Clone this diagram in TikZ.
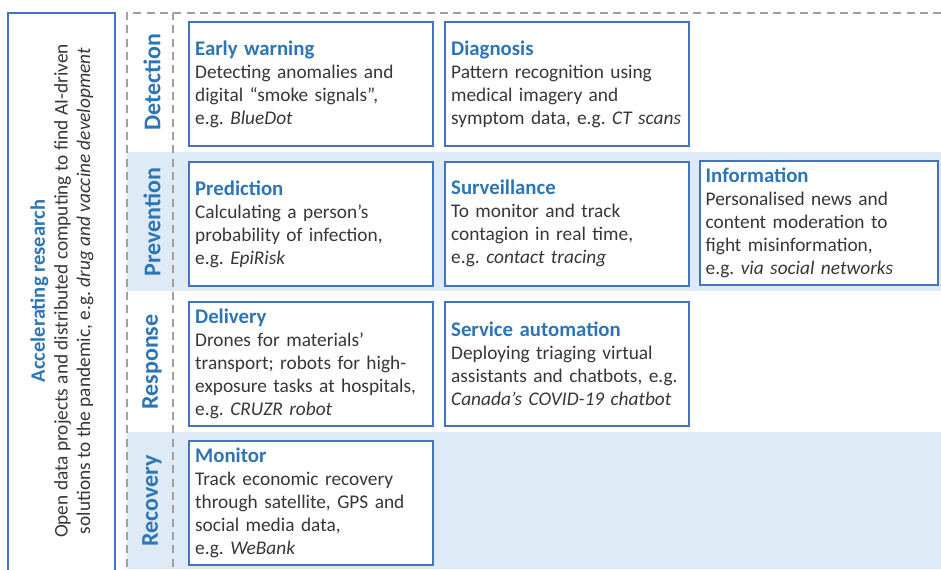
\documentclass[tikz,border=0pt]{standalone}
\usepackage{fontspec}
\setmainfont{Carlito}
\usepackage{xcolor}
\definecolor{frameblue}{RGB}{68, 114, 196}
\definecolor{headblue}{RGB}{46, 117, 182}
\definecolor{bandblue}{RGB}{222, 234, 246}
\definecolor{dashgray}{RGB}{160, 160, 160}
\definecolor{bodygray}{RGB}{55, 55, 55}
\newcommand{\cardhead}[1]{\textcolor{headblue}{\fontsize{15.6}{17.25}\selectfont\bfseries #1}}

\begin{document}
\begin{tikzpicture}[x=0.75pt, y=-0.75pt,
    card/.style={draw=frameblue, line width=1.5pt, fill=white, inner sep=0pt,
        minimum width=183pt, minimum height=93pt, text width=173pt, align=left,
        text=bodygray, font=\fontsize{14.5}{17.25}\selectfont\frenchspacing},
    phase/.style={rotate=90, text=headblue, font=\fontsize{18}{20}\selectfont\bfseries},
    guide/.style={dashgray, line width=1.1pt, dash pattern=on 6pt off 4pt}]
    \useasboundingbox (0,0) rectangle (941,569);
    \clip (0,0) rectangle (941,569);

    % Shaded phase bands
    \fill[bandblue] (127,152) rectangle (941,291);
    \fill[bandblue] (127,432) rectangle (941,569);

    % Dashed frame of the phase column
    \draw[guide] (127,580) -- (127,13) -- (941,13);
    \draw[guide] (173,580) -- (173,13);

    % Accelerating research
    \draw[frameblue, line width=1.5pt, fill=white] (8,13) rectangle (115,580);
    \node[rotate=90, align=center, text=bodygray, font=\fontsize{14.5}{17}\selectfont\frenchspacing] (accel) at (62,291)
        {\textcolor{headblue}{\fontsize{15.4}{17}\selectfont\bfseries Accelerating research}\\
         Open data projects and distributed computing to find AI-driven\\
         solutions to the pandemic, e.g. \textit{drug and vaccine development}};

    % Phases
    \node[phase] (detection) at (152,82) {Detection};
    \node[phase] (prevention) at (152,222) {Prevention};
    \node[phase] (response) at (152,362) {Response};
    \node[phase] (recovery) at (152,501) {Recovery};

    % Detection
    \node[card] (early) at (310.5,84) {\cardhead{Early warning}\\
        Detecting anomalies and\\ digital “smoke signals”,\\ e.g. \textit{BlueDot}};
    \node[card] (diagnosis) at (566.5,84) {\cardhead{Diagnosis}\\
        Pattern recognition using\\ medical imagery and\\ symptom data, e.g. \textit{CT scans}};

    % Prevention
    \node[card] (prediction) at (310.5,224) {\cardhead{Prediction}\\
        Calculating a person’s\\ probability of infection,\\ e.g. \textit{EpiRisk}};
    \node[card] (surveillance) at (566.5,223.5) {\cardhead{Surveillance}\\
        To monitor and track\\ contagion in real time,\\ e.g. \textit{contact tracing}};
    \node[card, minimum width=178pt, text width=170pt] (information) at (819,222.5) {\cardhead{Information}\\
        Personalised news and\\ content moderation to\\ fight misinformation,\\ e.g. \textit{via social networks}};

    % Response
    \node[card] (delivery) at (310.5,363.5) {\cardhead{Delivery}\\
        Drones for materials’\\ transport; robots for high-\\ exposure tasks at hospitals,\\ e.g. \textit{CRUZR robot}};
    \node[card] (automation) at (566.5,363.5) {\cardhead{Service automation}\\
        Deploying triaging virtual\\ assistants and chatbots, e.g.\\ \textit{Canada’s COVID-19 chatbot}};

    % Recovery
    \node[card] (monitor) at (310.5,502.5) {\cardhead{Monitor}\\
        Track economic recovery\\ through satellite, GPS and\\ social media data,\\ e.g. \textit{WeBank}};
\end{tikzpicture}
\end{document}
